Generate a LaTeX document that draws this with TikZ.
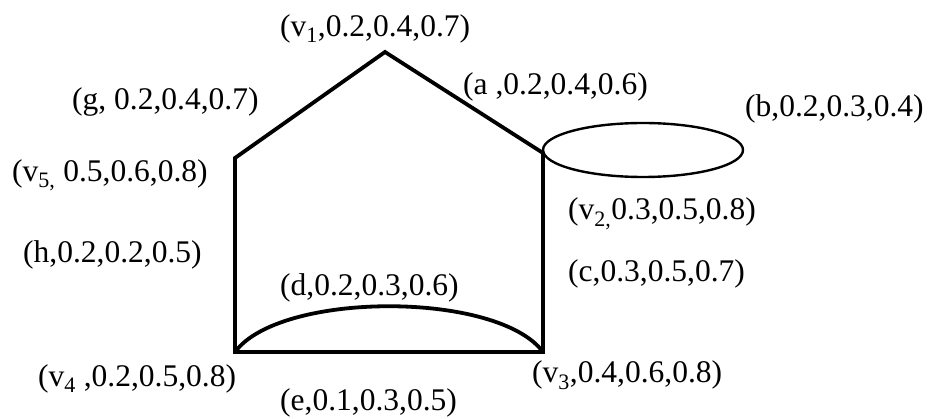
\documentclass[tikz,border=0pt]{standalone}
\usepackage{fontspec}
\setmainfont{Liberation Serif}
\tikzset{
	edge/.style={line width=3.8pt, line join=miter},
	lbl/.style={anchor=base west, inner sep=0pt, font=\fontsize{31.5}{36}\selectfont}
}
\newcommand{\vs}[1]{v\textsubscript{#1}}
\begin{document}
\begin{tikzpicture}[x=1pt, y=-1pt]
	\useasboundingbox (0, 0) rectangle (930, 419);
	
	\coordinate (v1) at (385, 52);
	\coordinate (v2) at (543, 153);
	\coordinate (v3) at (543, 352);
	\coordinate (v4) at (235, 352);
	\coordinate (v5) at (235, 158);
	\coordinate (bc) at (643, 150);
	
	\draw[edge] (v5) -- (v1) -- (v2) -- (v3) -- (v4) -- cycle;
	\draw[edge] (v4) .. controls +(45, -61) and +(-45, -61) .. (v3);
	\draw[line width=2.4pt] (bc) ellipse [x radius=100pt, y radius=27pt];
	
	\node[lbl] (l1) at (280, 37) {(\vs{1},0.2,0.4,0.7)};
	\node[lbl] (l2) at (568, 220) {(\vs{2,}0.3,0.5,0.8)};
	\node[lbl] (l3) at (532, 383) {(\vs{3},0.4,0.6,0.8)};
	\node[lbl] (l4) at (38, 387) {(\vs{4} ,0.2,0.5,0.8)};
	\node[lbl] (l5) at (12, 182) {(\vs{5,} 0.5,0.6,0.8)};
	
	\node[lbl] (la) at (463, 95) {(a ,0.2,0.4,0.6)};
	\node[lbl] (lb) at (745, 117) {(b,0.2,0.3,0.4)};
	\node[lbl] (lc) at (568, 282) {(c,0.3,0.5,0.7)};
	\node[lbl] (ld) at (280, 296) {(d,0.2,0.3,0.6)};
	\node[lbl] (le) at (280, 411) {(e,0.1,0.3,0.5)};
	\node[lbl] (lg) at (72, 110) {(g, 0.2,0.4,0.7)};
	\node[lbl] (lh) at (23, 263) {(h,0.2,0.2,0.5)};
\end{tikzpicture}
\end{document}
